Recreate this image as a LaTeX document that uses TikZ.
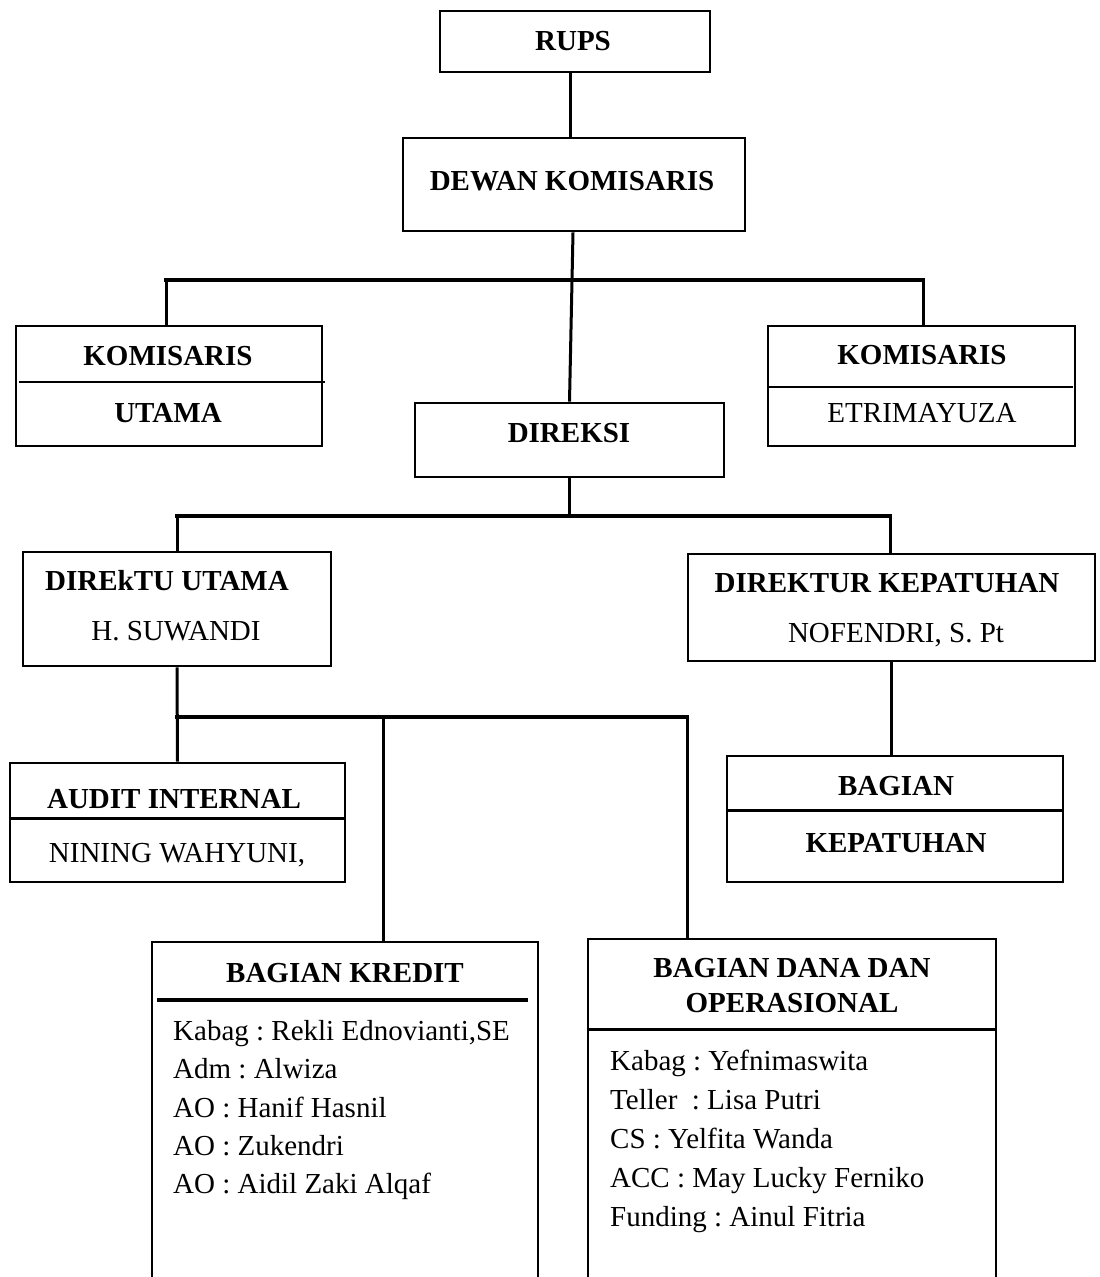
\documentclass[tikz,border=0pt]{standalone}
\usepackage{fontspec}
\setmainfont{Liberation Serif}
\frenchspacing
\begin{document}
\begin{tikzpicture}[x=1pt,y=-1pt,
  every node/.style={font=\fontsize{29}{35}\selectfont},
  box/.style={draw, rectangle, line width=2.8pt, inner sep=0pt},
  conn/.style={line width=3pt},
  bar/.style={line width=4pt, line cap=rect},
  thindiv/.style={line width=1.2pt},
  thickdiv/.style={line width=3pt},
  bt/.style={font=\fontsize{29}{35}\selectfont\bfseries, anchor=base, inner sep=0pt},
  nt/.style={anchor=base, inner sep=0pt},
  li/.style={anchor=base west, inner sep=0pt}]
\useasboundingbox (0,0) rectangle (1100,1277);

% boxes
\node[box, minimum width=270pt, minimum height=61pt] (rups) at (575,41.5) {};
\node[box, minimum width=342pt, minimum height=93pt] (dewan) at (574,184.5) {};
\node[box, minimum width=306pt, minimum height=120pt] (komu) at (169,386) {};
\node[box, minimum width=307pt, minimum height=120pt] (kome) at (921.5,386) {};
\node[box, minimum width=309pt, minimum height=74pt] (direksi) at (569.5,440) {};
\node[box, minimum width=308pt, minimum height=114pt] (dirut) at (177,609) {};
\node[box, minimum width=407pt, minimum height=107pt] (dirkep) at (891.5,607.5) {};
\node[box, minimum width=335pt, minimum height=119pt] (audit) at (177.5,822.5) {};
\node[box, minimum width=336pt, minimum height=126pt] (bkep) at (895,819) {};
\node[box, minimum width=386pt, minimum height=358pt] (kredit) at (345,1121) {};
\node[box, minimum width=408pt, minimum height=361pt] (dana) at (792,1119.5) {};

% texts
\node[bt] (trups) at (573,50) {RUPS};
\node[bt] (tdewan) at (572,190) {DEWAN KOMISARIS};
\node[bt] (tkomu1) at (168,365) {KOMISARIS};
\node[bt] (tkomu2) at (168,422) {UTAMA};
\node[bt] (tkome1) at (922,364) {KOMISARIS};
\node[nt] (tkome2) at (922,422) {ETRIMAYUZA};
\node[bt] (tdireksi) at (569,442) {DIREKSI};
\node[bt] (tdirut1) at (167,590) {DIREkTU UTAMA};
\node[nt] (tdirut2) at (176,640) {H. SUWANDI};
\node[bt] (tdirkep1) at (887,592) {DIREKTUR KEPATUHAN};
\node[nt] (tdirkep2) at (896,642) {NOFENDRI, S. Pt};
\node[bt] (taudit1) at (174,808) {AUDIT INTERNAL};
\node[nt] (taudit2) at (177,862) {NINING WAHYUNI,};
\node[bt] (tbkep1) at (896,795) {BAGIAN};
\node[bt] (tbkep2) at (896,852) {KEPATUHAN};
\node[bt] (tkredit) at (345,982) {BAGIAN KREDIT};
\node[li] (k1) at (173,1040) {Kabag : Rekli Ednovianti,SE};
\node[li] (k2) at (173,1078) {Adm : Alwiza};
\node[li] (k3) at (173,1117) {AO : Hanif Hasnil};
\node[li] (k4) at (173,1155) {AO : Zukendri};
\node[li] (k5) at (173,1193) {AO : Aidil Zaki Alqaf};
\node[bt] (tdana1) at (792,977) {BAGIAN DANA DAN};
\node[bt] (tdana2) at (792,1012) {OPERASIONAL};
\node[li] (d1) at (610,1070) {Kabag : Yefnimaswita};
\node[li] (d2) at (610,1109) {Teller\ \ : Lisa Putri};
\node[li] (d3) at (610,1148) {CS : Yelfita Wanda};
\node[li] (d4) at (610,1187) {ACC : May Lucky Ferniko};
\node[li] (d5) at (610,1226) {Funding : Ainul Fitria};

% dividers
\draw[thindiv] (19,382) -- (325,382);
\draw[thindiv] (767,387) -- (1073,387);
\draw[thickdiv] (audit.west |- 0,818) -- (audit.east |- 0,818);
\draw[thickdiv] (bkep.west |- 0,810) -- (bkep.east |- 0,810);
\draw[line width=4pt] (157,1000) -- (528,1000);
\draw[thickdiv] (dana.west |- 0,1029) -- (dana.east |- 0,1029);

% junction coordinates
\coordinate (b1l) at (166,280);
\coordinate (b1r) at (923,280);
\coordinate (b2l) at (177,516);
\coordinate (b2r) at (890,516);
\coordinate (b3l) at (177,717);
\coordinate (b3m) at (383,717);
\coordinate (b3r) at (687,717);

% connectors
\draw[conn] ([xshift=-5pt]rups.south) -- ([xshift=-4pt]dewan.north);
\draw[conn] ([xshift=-1pt]dewan.south) -- (direksi.north);
\draw[bar] (b1l) -- (b1r);
\draw[conn] (b1l) -- (b1l |- komu.north);
\draw[conn] (b1r) -- (b1r |- kome.north);
\draw[conn] (direksi.south) -- (direksi.south |- b2l);
\draw[bar] (b2l) -- (b2r);
\draw[conn] (b2l) -- (b2l |- dirut.north);
\draw[conn] (b2r) -- (b2r |- dirkep.north);
\draw[conn] (dirut.south) -- (audit.north);
\draw[bar, line width=3.5pt] (b3l) -- (b3r);
\draw[conn] (b3m) -- (b3m |- kredit.north);
\draw[conn] (b3r) -- (b3r |- dana.north);
\draw[conn] (dirkep.south) -- (dirkep.south |- bkep.north);
\end{tikzpicture}
\end{document}
